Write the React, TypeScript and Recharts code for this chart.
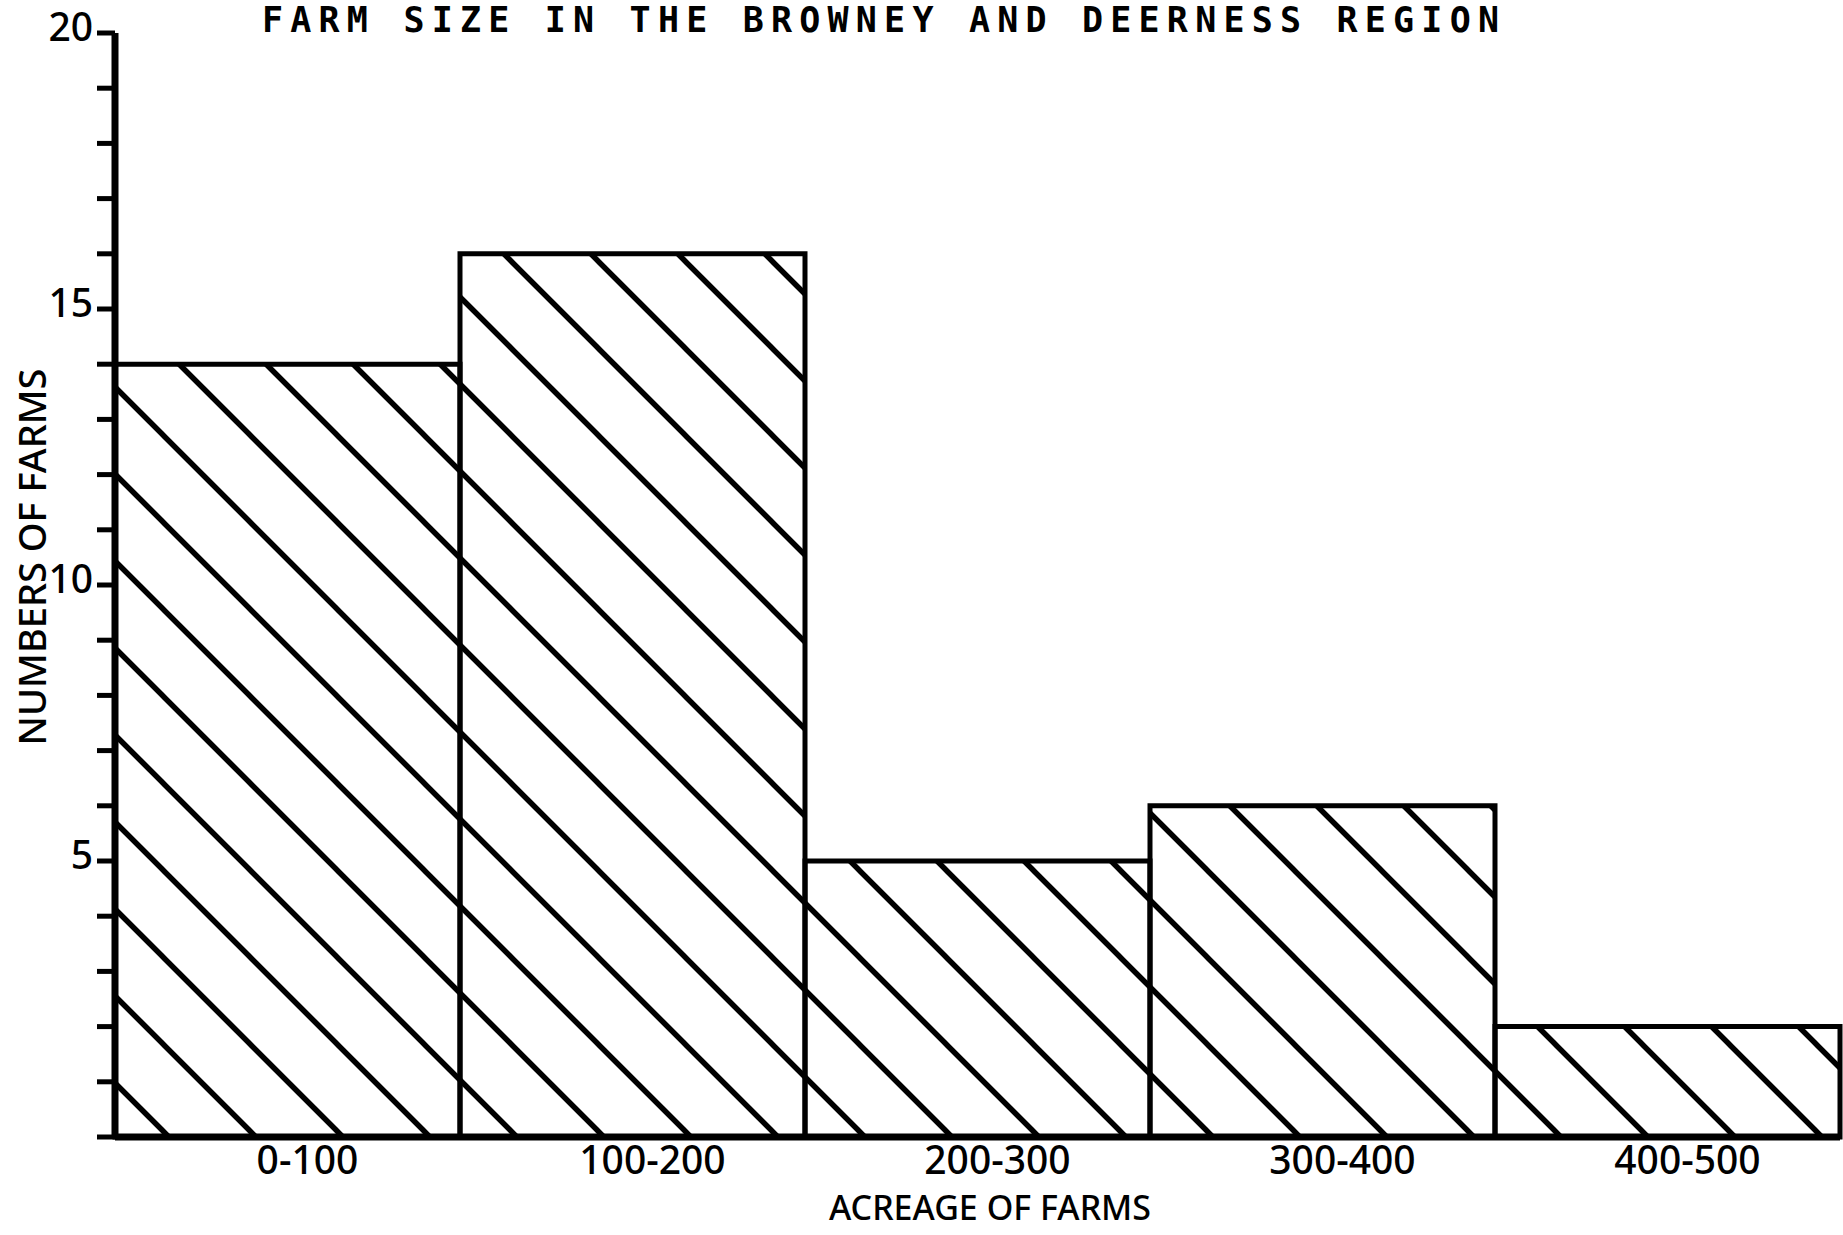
import { BarChart, Bar, XAxis, YAxis } from "recharts";

const categories = ["0-100", "100-200", "200-300", "300-400", "400-500"];
const farmCounts = [14, 16, 5, 6, 2];
const yTicks = [0, 1, 2, 3, 4, 5, 6, 7, 8, 9, 10, 11, 12, 13, 14, 15, 16, 17, 18, 19, 20];
const yLabelled = [5, 10, 15, 20];

const data = categories.map((c, i) => ({ range: c, farms: farmCounts[i] }));

const FONT = "'Noto Sans', 'DejaVu Sans', sans-serif";

function YTick({ x, y, payload }: any) {
  if (!yLabelled.includes(payload.value)) return null;
  return (
    <text x={x} y={y} dy={-3} textAnchor="end" dominantBaseline="middle" fontFamily={FONT} fontWeight={500} fontSize={39} fill="#000">
      {payload.value}
    </text>
  );
}

function XTick({ x, y, payload }: any) {
  return (
    <text x={x + 20} y={y} dy={18} textAnchor="middle" dominantBaseline="middle" fontFamily={FONT} fontWeight={500} fontSize={39} fill="#000">
      {payload.value}
    </text>
  );
}

export default function App() {
  return (
    <div style={{ position: "absolute", left: 0, top: 0, width: 1843, height: 1235, background: "#fff" }}>
      <BarChart width={1843} height={1235} data={data} barCategoryGap={0} margin={{ top: 33, right: 3, left: 0, bottom: 38 }}>
        <defs>
          <pattern id="hatch" patternUnits="userSpaceOnUse" width={87} height={87} patternTransform="translate(76,0)">
            <path d="M-20,-20 L107,107 M67,-20 L107,20 M-20,67 L20,107" stroke="#000" strokeWidth={5.5} />
          </pattern>
        </defs>
        <XAxis dataKey="range" height={60} tickLine={false} axisLine={{ stroke: "#000", strokeWidth: 7 }} tick={<XTick />} interval={0} />
        <YAxis
          width={115}
          domain={[0, 20]}
          ticks={yTicks}
          interval={0}
          tickSize={18}
          tickMargin={4}
          tickLine={{ stroke: "#000", strokeWidth: 5 }}
          axisLine={{ stroke: "#000", strokeWidth: 7 }}
          tick={<YTick />}
        />
        <Bar dataKey="farms" fill="url(#hatch)" stroke="#000" strokeWidth={5} isAnimationActive={false} />
      </BarChart>
      <svg width={1843} height={1235} style={{ position: "absolute", left: 0, top: 0, pointerEvents: "none" }}>
        <text x={262} y={22} textLength={1237} lengthAdjust="spacing" dominantBaseline="middle" fontFamily="'DejaVu Sans Mono', monospace" fontWeight="bold" fontSize={35} fill="#000">
          FARM  SIZE  IN  THE  BROWNEY  AND  DEERNESS  REGION
        </text>
        <text x={36} y={557} transform="rotate(-90 36 557)" textAnchor="middle" dominantBaseline="middle" fontFamily={FONT} fontWeight={500} fontSize={38} fill="#000">
          NUMBERS OF FARMS
        </text>
        <text x={990} y={1211} textAnchor="middle" dominantBaseline="middle" fontFamily={FONT} fontWeight={500} fontSize={34} fill="#000">
          ACREAGE OF FARMS
        </text>
      </svg>
    </div>
  );
}
